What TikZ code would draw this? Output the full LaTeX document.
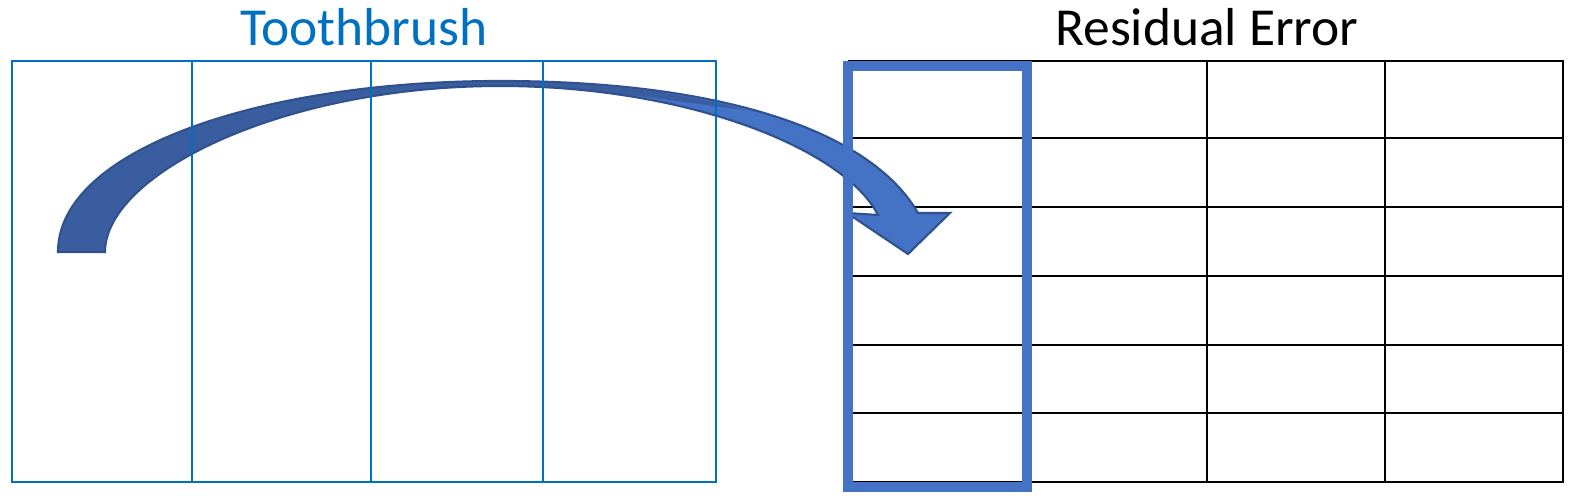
\documentclass[tikz,border=0pt]{standalone}
\usepackage{fontspec}
\setmainfont{Carlito}
\definecolor{GridBlue}{HTML}{0070C0}
\definecolor{ArrowFace}{HTML}{4472C4}
\definecolor{ArrowEdge}{HTML}{2F528F}
\definecolor{ArrowBack}{HTML}{3A5D9F}
\definecolor{BoxBlue}{HTML}{4472C4}
\begin{document}
\begin{tikzpicture}[x=0.01cm,y=-0.01cm,every node/.style={font=\fontsize{15.2pt}{18pt}\selectfont},bluegrid/.style={draw=GridBlue,line width=0.6pt},blackgrid/.style={draw=black,line width=0.6pt},colbox/.style={draw=BoxBlue,line width=3.1pt},arrowbody/.style={draw=ArrowEdge,line width=0.6pt,line join=miter}]
\useasboundingbox (0,0) rectangle (1575,498);

\node[anchor=base,text=GridBlue] (tbtitle) at (364,46) {Toothbrush};
\node[anchor=base] (retitle) at (1207,46) {Residual Error};

% residual error table
\draw[blackgrid] (849,61) rectangle (1563,482);
\draw[blackgrid] (1027,61)--(1027,482) (1207,61)--(1207,482) (1385,61)--(1385,482);
\draw[blackgrid] (849,138)--(1563,138) (849,207)--(1563,207) (849,276)--(1563,276) (849,345)--(1563,345) (849,413)--(1563,413);

% curved arrow
\coordinate (tailO) at (58,252); \coordinate (tailI) at (105,252); \coordinate (topO) at (500,81); \coordinate (topI) at (500,86);
\coordinate (headO) at (918,213); \coordinate (headI) at (878,215); \coordinate (barbR) at (950,213); \coordinate (barbL) at (847,213); \coordinate (tip) at (908,254);
\fill[ArrowFace] (tailO) .. controls (58,150) and (260,81) .. (topO) .. controls (720,81) and (870,130) .. (headO) -- (barbR) -- (tip) -- (barbL) -- (headI) .. controls (845,150) and (690,86) .. (topI) .. controls (280,86) and (105,175) .. (tailI) -- cycle;
\fill[ArrowBack] (tailO) .. controls (58,150) and (260,81) .. (topO) .. controls (610,82) and (690,95) .. (745,110) .. controls (680,102) and (600,88) .. (topI) .. controls (280,86) and (105,175) .. (tailI) -- cycle;
\draw[arrowbody] (tailO) .. controls (58,150) and (260,81) .. (topO) .. controls (720,81) and (870,130) .. (headO) -- (barbR) -- (tip) -- (barbL) -- (headI) .. controls (845,150) and (690,86) .. (topI) .. controls (280,86) and (105,175) .. (tailI) -- cycle;

% toothbrush table
\draw[bluegrid] (12,61) rectangle (716,482);
\draw[bluegrid] (192,61)--(192,482) (371,61)--(371,482) (543,61)--(543,482);

% selected column
\draw[colbox] (848,66) rectangle (1027,487);

\end{tikzpicture}
\end{document}
